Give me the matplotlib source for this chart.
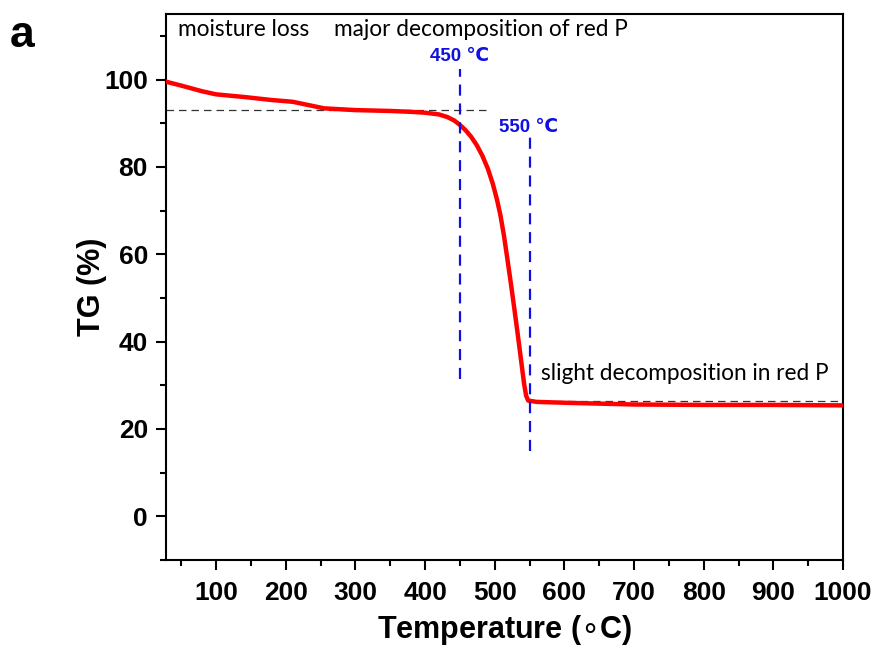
import matplotlib
matplotlib.use("Agg")
import matplotlib.pyplot as plt
from matplotlib.ticker import MultipleLocator

# TG curve of red phosphorus (temperature in degC, mass in %)
temperature = [28, 50, 80, 100, 140, 180, 210, 225, 255, 300, 350, 380, 400,
               420, 432, 442, 450, 458, 466, 474, 482, 490, 497, 503, 508,
               513, 518, 523, 528, 533, 538, 542, 545, 548, 560, 600, 650,
               700, 800, 900, 1000]
tg = [99.5, 98.6, 97.3, 96.6, 96.0, 95.3, 94.9, 94.4, 93.4, 93.0, 92.8, 92.6,
      92.4, 92.0, 91.4, 90.6, 89.6, 88.4, 86.9, 85.0, 82.6, 79.6, 76.2, 72.6,
      69.0, 64.4, 59.0, 53.4, 47.6, 41.6, 35.4, 30.4, 27.6, 26.5, 26.2, 26.0,
      25.8, 25.6, 25.5, 25.5, 25.4]

x_ticks = [100, 200, 300, 400, 500, 600, 700, 800, 900, 1000]
y_ticks = [0, 20, 40, 60, 80, 100]

plateau_high = 93.0
plateau_low = 26.5
onset_temp = 450
end_temp = 550

fig = plt.figure(figsize=(8.79, 6.48), dpi=100)
ax = fig.add_axes([0.1889, 0.1358, 0.7702, 0.8426])

ax.plot(temperature, tg, color="#ff0000", lw=3.2, solid_capstyle="round",
        solid_joinstyle="round", zorder=3)

# reference plateaus
ax.plot([28, 487], [plateau_high, plateau_high], color="#333333", lw=0.9,
        dashes=(6, 4), zorder=2)
ax.plot([551, 1000], [plateau_low, plateau_low], color="#333333", lw=0.9,
        dashes=(6, 4), zorder=2)

# characteristic temperatures
ax.plot([onset_temp, onset_temp], [31.5, 102.5], color="#1010e0", lw=1.6,
        dashes=(5, 3.5), zorder=4)
ax.plot([end_temp, end_temp], [15, 87], color="#1010e0", lw=1.6,
        dashes=(5, 3.5), zorder=4)

fam = ["Liberation Sans", "DejaVu Sans"]
ax.text(onset_temp, 105.3, "450 \u2103", color="#1010e0", fontsize=13.5,
        fontweight="bold", family=fam, ha="center", va="center")
ax.text(end_temp - 2, 89.0, "550 \u2103", color="#1010e0", fontsize=13.5,
        fontweight="bold", family=fam, ha="center", va="center")

note_font = ["Lato", "DejaVu Sans"]
ax.text(45, 111.5, "moisture loss", fontsize=16.3, family=note_font,
        ha="left", va="center")
ax.text(269, 111.5, "major decomposition of red P", fontsize=16.3,
        family=note_font, ha="left", va="center")
ax.text(566, 32.8, "slight decomposition in red P", fontsize=16.3,
        family=note_font, ha="left", va="center")

ax.set_xlim(28, 1000)
ax.set_ylim(-10, 115)
ax.set_xticks(x_ticks)
ax.set_yticks(y_ticks)
ax.xaxis.set_minor_locator(MultipleLocator(50))
ax.yaxis.set_minor_locator(MultipleLocator(10))

lab_font = "Liberation Sans"
for lab in ax.get_xticklabels() + ax.get_yticklabels():
    lab.set_fontfamily(lab_font)
    lab.set_fontweight("bold")
    lab.set_fontsize(19)

ax.tick_params(which="major", direction="out", length=7, width=1.5,
               top=False, right=False)
ax.tick_params(axis="x", which="major", pad=8)
ax.tick_params(axis="y", which="major", pad=6)
ax.tick_params(which="minor", direction="out", length=4, width=1.5,
               top=False, right=False)
for sp in ax.spines.values():
    sp.set_linewidth(1.5)

ax.set_xlabel(r"Temperature ($\circ$C)", fontsize=22, fontweight="bold",
              family=lab_font, labelpad=6)
ax.set_ylabel("TG (%)", fontsize=22, fontweight="bold", family=lab_font,
              labelpad=-2)

fig.text(0.011, 0.945, "a", fontsize=32, fontweight="bold", family=lab_font,
         ha="left", va="center")

fig.savefig("out.png", dpi=100)
